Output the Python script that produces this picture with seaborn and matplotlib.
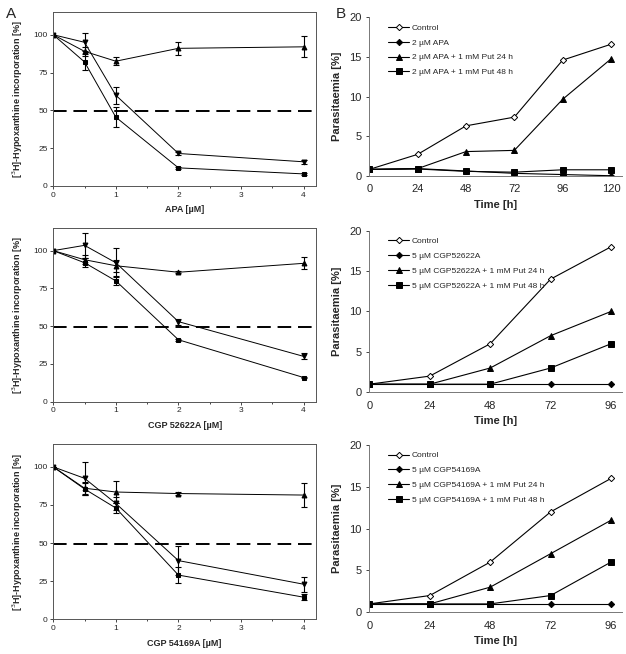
import numpy as np
import pandas as pd
import seaborn as sns
import matplotlib.pyplot as plt
from matplotlib.ticker import MultipleLocator

sns.set_style('ticks')
plt.rcParams['font.family'] = ['Liberation Sans', 'DejaVu Sans']

# ---- panel A: dose response, [3H]-hypoxanthine incorporation ----
dose = [0, 0.5, 1, 2, 4]

apa_up = [100, 89, 82.5, 91, 92]
apa_up_err = [0, 3, 2.5, 4.5, 7]
apa_down = [100, 95, 60, 21.5, 16]
apa_down_err = [0, 6, 5.5, 1, 1.5]
apa_sq = [100, 82, 45.5, 12, 8]
apa_sq_err = [0, 5, 6.5, 0.5, 0.5]

c52_up = [100, 94, 90, 85.7, 91.6]
c52_up_err = [0, 3, 4, 0.5, 4]
c52_down = [100, 103.5, 92, 53, 30]
c52_down_err = [0, 8.5, 9.5, 2, 2]
c52_sq = [100, 92, 80, 41, 16]
c52_sq_err = [0, 3, 3, 0.5, 0.5]

c54_up = [100, 86, 83.5, 82.5, 81.5]
c54_up_err = [0, 4, 7.5, 1, 8]
c54_down = [100, 92.5, 76, 38.5, 23]
c54_down_err = [0, 11, 4, 9.5, 5]
c54_sq = [100, 85.5, 73, 29, 14.5]
c54_sq_err = [0, 4, 3, 5, 2]

# ---- panel B: parasitaemia time course ----
time_apa = [0, 24, 48, 72, 96, 120]
apa_control = [0.8, 2.7, 6.3, 7.4, 14.6, 16.6]
apa_drug = [0.8, 0.9, 0.6, 0.3, 0.15, 0.0]
apa_put24 = [0.8, 0.9, 3.05, 3.2, 9.65, 14.75]
apa_put48 = [0.8, 0.85, 0.55, 0.45, 0.75, 0.75]

time_cgp = [0, 24, 48, 72, 96]
c52_control = [1, 2, 6, 14, 18]
c52_drug = [1, 1, 1, 1, 1]
c52_put24 = [1, 1, 3, 7, 10]
c52_put48 = [1, 1, 1, 3, 6]

c54_control = [1, 2, 6, 12, 16]
c54_drug = [1, 1, 1, 1, 1]
c54_put24 = [1, 1, 3, 7, 11]
c54_put48 = [1, 1, 1, 2, 6]

fig = plt.figure(figsize=(6.26, 6.54), dpi=100)


def dose_panel(rect, xlabel, up, up_err, down, down_err, sq, sq_err):
    ax = fig.add_axes(rect)
    for vals, errs, mk in [(up, up_err, '^'), (down, down_err, 'v'), (sq, sq_err, 's')]:
        d = pd.DataFrame({'x': dose, 'y': vals})
        sns.lineplot(data=d, x='x', y='y', ax=ax, color='black', lw=0.7,
                     marker=mk, markersize=3.5, markeredgecolor='black', markerfacecolor='black')
        ax.errorbar(dose, vals, yerr=errs, fmt='none', ecolor='black',
                    elinewidth=0.8, capsize=2, capthick=0.8)
    ax.axhline(49.5, color='black', lw=1.4, ls=(0, (7, 3.5)))
    ax.set_xlim(0, 4.2)
    ax.set_ylim(0, 115)
    ax.set_xticks([0, 1, 2, 3, 4])
    ax.xaxis.set_minor_locator(MultipleLocator(0.5))
    ax.set_yticks([0, 25, 50, 75, 100])
    ax.tick_params(labelsize=6, length=2.5, width=0.6, pad=1.5)
    ax.tick_params(which='minor', length=1.5, width=0.6)
    for s in ax.spines.values():
        s.set_color('#555555')
        s.set_linewidth(0.7)
    ax.set_xlabel(xlabel, fontsize=6.5, fontweight='bold', labelpad=5)
    ax.set_ylabel('[$^{3}$H]-Hypoxanthine incorporation [%]', fontsize=6.5,
                  fontweight='bold', labelpad=6)
    return ax


def time_panel(rect, times, drug_label, control, drug, put24, put48):
    ax = fig.add_axes(rect)
    series = [
        ('Control', control, 'D', 'white', 3.2),
        (drug_label, drug, 'D', 'black', 3.2),
        (drug_label + ' + 1 mM Put 24 h', put24, '^', 'black', 4.5),
        (drug_label + ' + 1 mM Put 48 h', put48, 's', 'black', 4),
    ]
    for name, vals, mk, fc, ms in series:
        d = pd.DataFrame({'t': times, 'p': vals})
        sns.lineplot(data=d, x='t', y='p', ax=ax, color='black', lw=0.8,
                     marker=mk, markersize=ms, markerfacecolor=fc,
                     markeredgecolor='black', markeredgewidth=0.7, label=name)
    ax.set_xlim(0, times[-1] * 1.044)
    ax.set_ylim(0, 20)
    ax.set_xticks(times)
    ax.set_yticks([0, 5, 10, 15, 20])
    ax.tick_params(labelsize=8, length=2.5, width=0.6, pad=3)
    ax.tick_params(axis='x', length=0, pad=6)
    sns.despine(ax=ax)
    for s in ax.spines.values():
        s.set_color('#777777')
        s.set_linewidth(0.7)
    ax.set_xlabel('Time [h]', fontsize=8, fontweight='bold', labelpad=4)
    ax.set_ylabel('Parasitaemia [%]', fontsize=8, fontweight='bold', labelpad=5)
    ax.legend(loc='upper left', bbox_to_anchor=(0.06, 0.98), frameon=False,
              fontsize=6, handlelength=2.6, handletextpad=0.3, labelspacing=0.85,
              borderaxespad=0)
    return ax


dose_panel([0.085, 0.7156, 0.42, 0.266], 'APA [µM]',
           apa_up, apa_up_err, apa_down, apa_down_err, apa_sq, apa_sq_err)
dose_panel([0.085, 0.3858, 0.42, 0.2656], 'CGP 52622A [µM]',
           c52_up, c52_up_err, c52_down, c52_down_err, c52_sq, c52_sq_err)
dose_panel([0.085, 0.0531, 0.42, 0.268], 'CGP 54169A [µM]',
           c54_up, c54_up_err, c54_down, c54_down_err, c54_sq, c54_sq_err)

time_panel([0.590, 0.7313, 0.403, 0.2422], time_apa, '2 µM APA',
           apa_control, apa_drug, apa_put24, apa_put48)
time_panel([0.590, 0.4002, 0.403, 0.2471], time_cgp, '5 µM CGP52622A',
           c52_control, c52_drug, c52_put24, c52_put48)
time_panel([0.590, 0.0638, 0.403, 0.2558], time_cgp, '5 µM CGP54169A',
           c54_control, c54_drug, c54_put24, c54_put48)

fig.text(0.010, 0.99, 'A', fontsize=11, va='top')
fig.text(0.537, 0.99, 'B', fontsize=11, va='top')

fig.savefig('out.png', dpi=100)
